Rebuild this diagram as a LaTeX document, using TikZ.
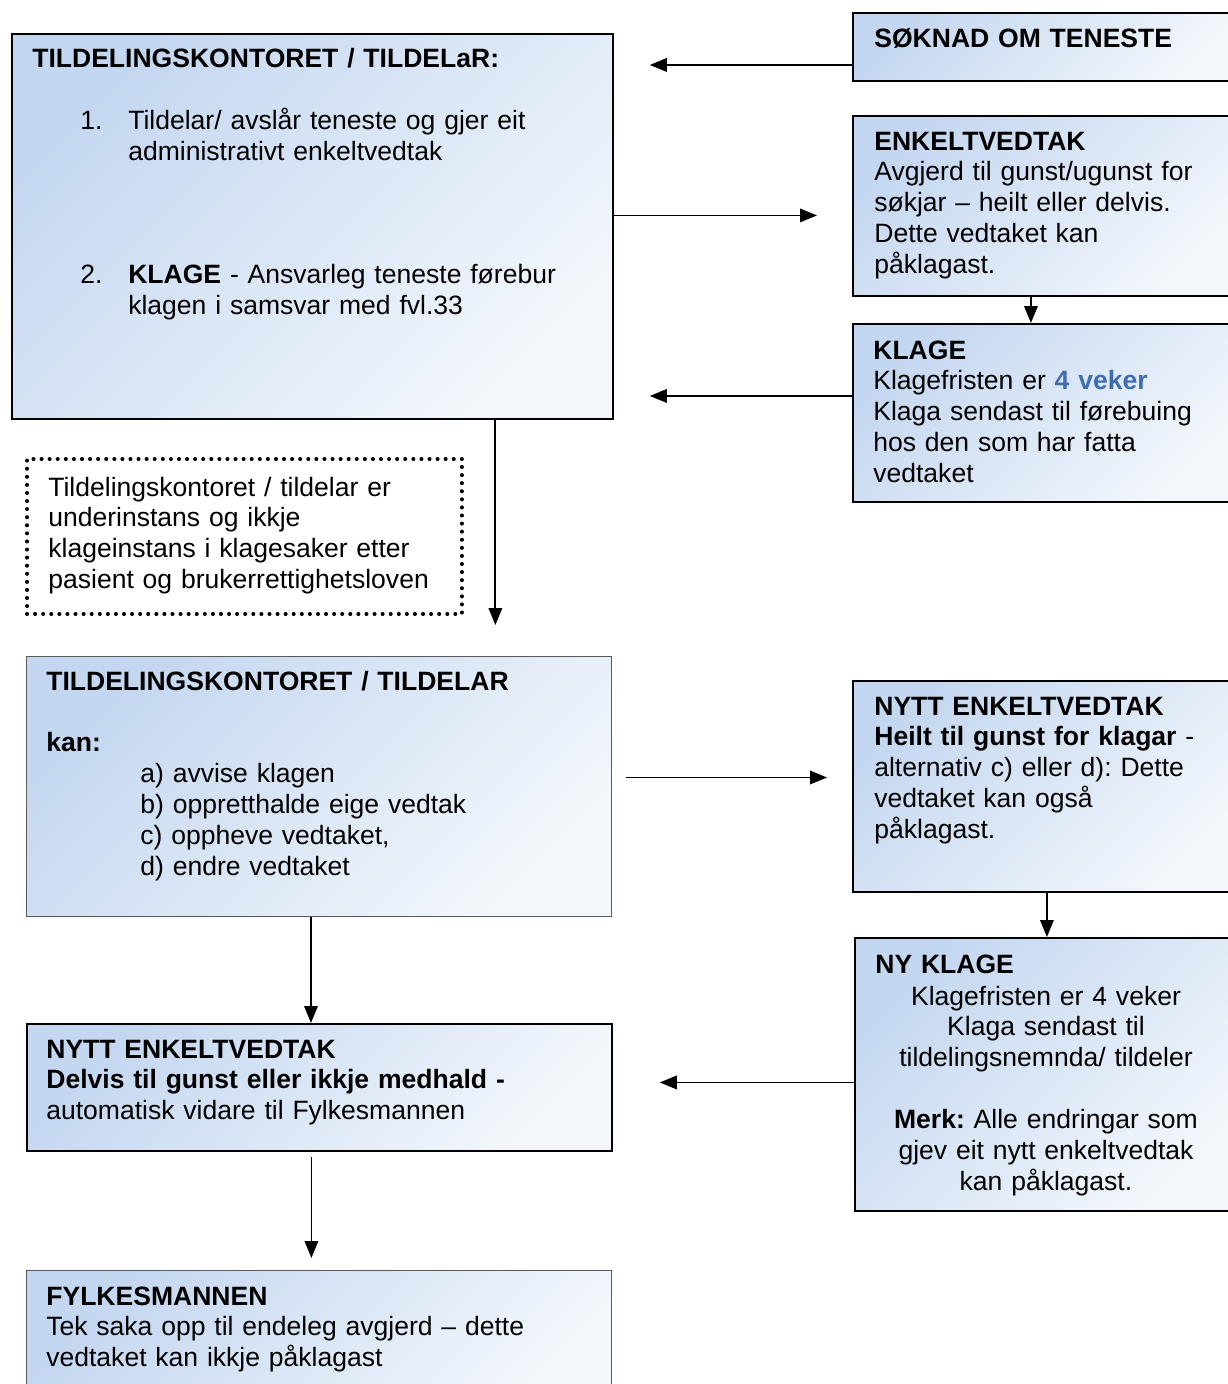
\documentclass[tikz,border=0pt]{standalone}
\usepackage{fontspec}
\setmainfont{Liberation Sans}
\usetikzlibrary{arrows.meta}
\frenchspacing

\definecolor{boxtop}{HTML}{C4D7F0}
\definecolor{boxbot}{HTML}{F3F7FC}
\definecolor{vekeblue}{HTML}{3F6DAE}

\tikzset{
  panel/.style={draw=black, line width=1.1pt, anchor=north west, inner sep=0pt,
    top color=boxtop, bottom color=boxbot, shading angle=45},
  thinpanel/.style={panel, draw=black!65, line width=0.6pt},
  notebox/.style={draw, anchor=north west, inner sep=0pt, line width=2.3pt,
    dash pattern=on 0pt off 4.6pt, line cap=round},
  txt/.style={anchor=base west, align=left, text width=#1, inner sep=0pt,
    font=\fontsize{15.1}{17.6}\selectfont},
  txt/.default=11cm,
  arr/.style={-{Triangle[length=0.34cm,width=0.27cm]}, line width=1pt},
}

\begin{document}
\begin{tikzpicture}[x=0.02cm, y=-0.02cm]
  \useasboundingbox (0,0) rectangle (1228,1384);
  \clip (0,0) rectangle (1228,1384);

  % Boxes
  \node (A) [panel, minimum width=12.02cm, minimum height=7.70cm] at (11,33) {};
  \node (S) [panel, minimum width=7.76cm, minimum height=1.36cm] at (852,12) {};
  \node (E) [panel, minimum width=7.76cm, minimum height=3.60cm] at (852,115) {};
  \node (K) [panel, minimum width=7.76cm, minimum height=3.56cm] at (852,323) {};
  \node (note) [notebox, minimum width=8.70cm, minimum height=3.10cm] at (25,457) {};
  \node (T) [thinpanel, minimum width=11.70cm, minimum height=5.20cm] at (26,656) {};
  \node (N) [panel, minimum width=7.76cm, minimum height=4.22cm] at (852,680) {};
  \node (NK) [panel, minimum width=7.72cm, minimum height=5.46cm] at (854,937) {};
  \node (D) [panel, minimum width=11.70cm, minimum height=2.54cm] at (26,1023) {};
  \node (F) [thinpanel, minimum width=11.70cm, minimum height=2.80cm] at (26,1270) {};

  % Texts
  \node (A-txt) [txt] at (32,67) {\textbf{TILDELINGSKONTORET / TILDELaR:}\\[0.64cm]
    \hspace*{0.96cm}\makebox[0.96cm][l]{1.}Tildelar/ avslår teneste og gjer eit\\
    \hspace*{1.92cm}administrativt enkeltvedtak\\[1.84cm]
    \hspace*{0.96cm}\makebox[0.96cm][l]{2.}\textbf{KLAGE} - Ansvarleg teneste førebur\\
    \hspace*{1.92cm}klagen i samsvar med fvl.33};
  \node (S-txt) [txt=7cm] at (874,47) {\textbf{SØKNAD OM TENESTE}};
  \node (E-txt) [txt=7cm] at (874,150) {\textbf{ENKELTVEDTAK}\\
    Avgjerd til gunst/ugunst for\\søkjar – heilt eller delvis.\\
    Dette vedtaket kan\\påklagast.};
  \node (K-txt) [txt=7cm] at (873,359) {\textbf{KLAGE}\\
    Klagefristen er \textcolor{vekeblue}{\textbf{4 veker}}\\
    Klaga sendast til førebuing\\hos den som har fatta\\vedtaket};
  \node (note-txt) [txt=8cm] at (48,496) {Tildelingskontoret / tildelar er\\
    underinstans og ikkje\\klageinstans i klagesaker etter\\
    pasient og brukerrettighetsloven};
  \node (T-txt) [txt] at (46,690) {\textbf{TILDELINGSKONTORET / TILDELAR}\\[0.62cm]
    \textbf{kan:}\\
    \hspace*{1.88cm}a) avvise klagen\\
    \hspace*{1.88cm}b) oppretthalde eige vedtak\\
    \hspace*{1.88cm}c) oppheve vedtaket,\\
    \hspace*{1.88cm}d) endre vedtaket};
  \node (N-txt) [txt=7cm] at (874,715) {\textbf{NYTT ENKELTVEDTAK}\\
    \textbf{Heilt til gunst for klagar} -\\alternativ c) eller d): Dette\\
    vedtaket kan også\\påklagast.};
  \node (NK-title) [txt=7cm] at (875,973) {\textbf{NY KLAGE}};
  \node (NK-txt) [txt=7cm, anchor=base, align=center] at (1046,1005) {Klagefristen er 4 veker\\
    Klaga sendast til\\tildelingsnemnda/ tildeler\\[0.62cm]
    \textbf{Merk:} Alle endringar som\\gjev eit nytt enkeltvedtak\\kan påklagast.};
  \node (D-txt) [txt] at (46,1058) {\textbf{NYTT ENKELTVEDTAK}\\
    \textbf{Delvis til gunst eller ikkje medhald -}\\
    automatisk vidare til Fylkesmannen};
  \node (F-txt) [txt] at (46,1305) {\textbf{FYLKESMANNEN}\\
    Tek saka opp til endeleg avgjerd – dette\\vedtaket kan ikkje påklagast};

  % Edges
  \coordinate (s-out) at ([yshift=-0.36cm]S.west);
  \draw[arr, shorten >=0.72cm] (s-out) -- (s-out -| A.east);
  \coordinate (a-out) at ([yshift=0.22cm]A.east);
  \draw[arr, shorten >=0.70cm] (a-out) -- (a-out -| E.west);
  \coordinate (e-out) at ([xshift=-0.32cm]E.south);
  \draw[arr] (e-out) -- (e-out |- K.north);
  \coordinate (k-out) at ([yshift=0.34cm]K.west);
  \draw[arr, shorten >=0.72cm] (k-out) -- (k-out -| A.east);
  \coordinate (a-down) at ([xshift=3.66cm]A.south);
  \draw[arr, shorten >=0.62cm] (a-down) -- (a-down |- T.north);
  \coordinate (t-out) at ([yshift=0.18cm]T.east);
  \draw[arr, shorten <=0.28cm, shorten >=0.50cm] (t-out) -- (t-out -| N.west);
  \draw[arr] (N.south) -- (N.south |- NK.north);
  \coordinate (nk-out) at ([yshift=-0.16cm]NK.west);
  \draw[arr, shorten >=0.94cm] (nk-out) -- (nk-out -| D.east);
  \coordinate (t-down) at ([xshift=-0.16cm]T.south);
  \draw[arr] (t-down) -- (t-down |- D.north);
  \coordinate (d-down) at ([xshift=-0.16cm]D.south);
  \draw[arr, shorten <=0.10cm, shorten >=0.24cm] (d-down) -- (d-down |- F.north);
\end{tikzpicture}
\end{document}
